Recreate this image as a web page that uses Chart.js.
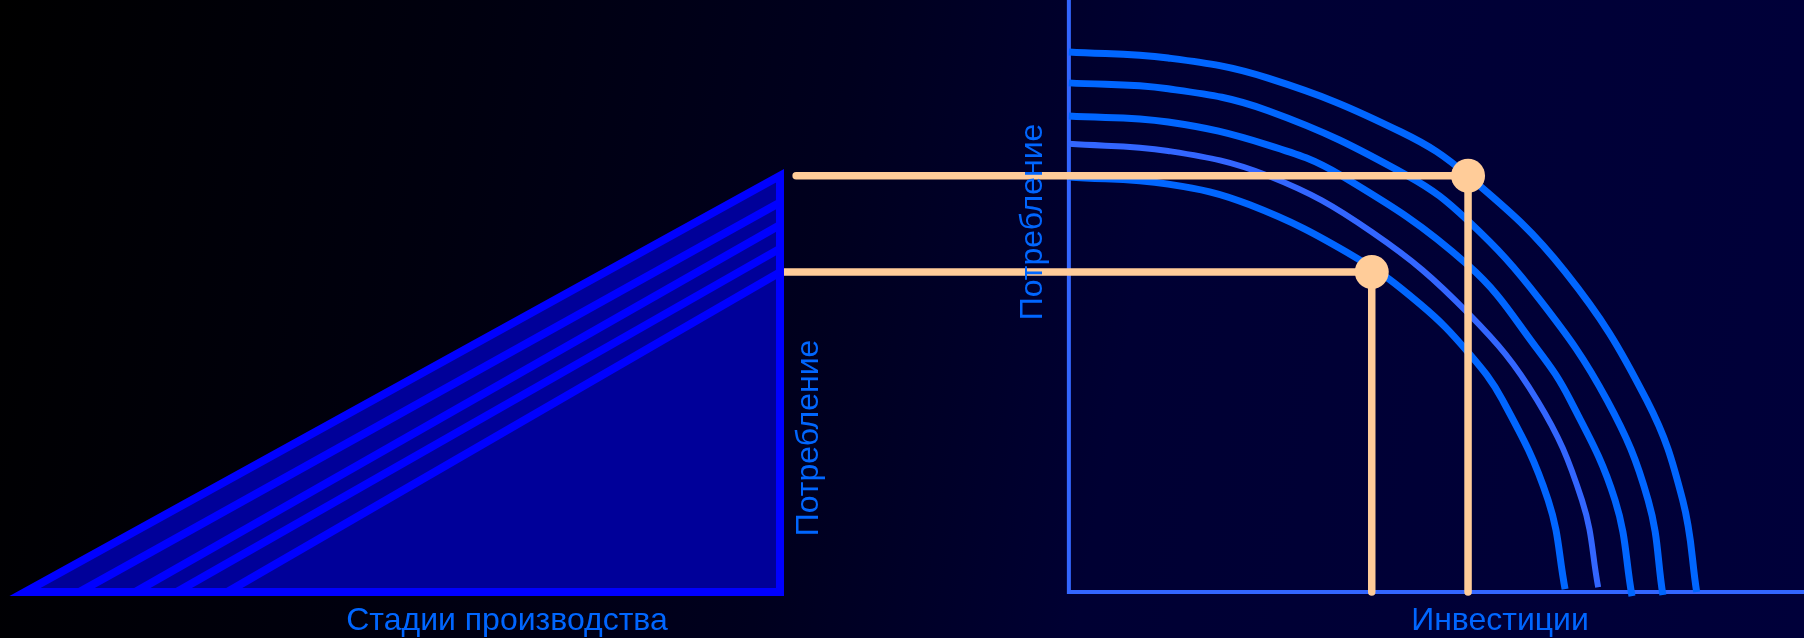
<!DOCTYPE html>
<html lang="ru">
<head>
<meta charset="utf-8">
<title>Стадии производства и инвестиции</title>
<script src="https://cdn.jsdelivr.net/npm/chart.js@4.4.1/dist/chart.umd.min.js"></script>
<style>
  html, body { margin: 0; padding: 0; overflow: hidden; }
  body {
    width: 1804px; height: 638px;
    background: linear-gradient(100deg, #000000 0%, #00000f 25%, #00001e 45%, #000033 62%, #00003a 100%);
  }
  canvas { display: block; }
</style>
</head>
<body>
<canvas id="chart" width="1804" height="638"></canvas>
<script>
// Left: Hayek triangle (stages of production vs consumption).
// Right: production possibility frontiers (investment vs consumption).
// Consumption is one shared y scale, so the guide lines run straight across both panels.

// --- data -----------------------------------------------------------------
var triangleTop = 70.3;                       // consumption delivered by the last stage
var hatchStart = [7.2, 14.6, 20.1, 26.8];     // stage where each inner line leaves the base
var hatchEnd = [65.8, 62.0, 58.0, 54.0];      // consumption where it meets the last stage

// frontiers, outermost first: [investment, consumption]
var ppf1 = [[0, 91.2], [13.5, 90.2], [27.1, 86.8], [45.2, 77.7], [54.3, 70.3],
            [67.5, 54.1], [78.6, 32.4], [83.5, 15.5], [85.4, 0]];
var ppf2 = [[0, 86.0], [13.5, 85.0], [27.1, 81.3], [46.1, 70.3], [54.3, 62.7],
            [64.1, 49.3], [73.2, 32.4], [78.8, 15.5], [80.8, -0.5]];
var ppf3 = [[0, 80.4], [13.5, 79.4], [27.1, 75.5], [37.1, 70.3], [54.3, 55.2],
            [63.8, 40.9], [68.2, 32.4], [74.3, 15.5], [76.6, -0.7]];
var ppf4 = [[0, 75.7], [13.5, 74.5], [27.1, 70.3], [41.2, 60.8], [54.3, 47.1],
            [63.7, 32.4], [69.8, 15.5], [72.0, 0.8]];
var ppf5 = [[0, 70.1], [13.5, 68.9], [24.6, 65.4], [38.9, 56.6], [47.8, 48.6],
            [54.3, 40.5], [59.0, 32.4], [65.2, 15.5], [67.5, 0.5]];

// chosen points on the frontiers: [investment, consumption]
var pointHigh = [54.3, 70.3];
var pointLow = [41.2, 54.05];
// where the horizontal guides start, on the investment scale (left of the y axis)
var guideStart = [-37.1, -39.3];

// --- styles ---------------------------------------------------------------
var BLUE = '#0000ff', FILL = '#000099', PPF = '#0066ff', PPF_ALT = '#3366ff';
var AXIS = '#3366ff', PEACH = '#ffcc99', TEXT = '#0066ff';
var FONT = '32px "Liberation Sans", Arial, sans-serif';

function pts(list) { return list.map(function (p) { return { x: p[0], y: p[1] }; }); }

function seg(data, color, width, axis, extra) {
  var ds = { data: data, borderColor: color, borderWidth: width, pointRadius: 0, tension: 0,
             fill: false, clip: false, xAxisID: axis || 'x', yAxisID: 'y' };
  for (var k in extra) ds[k] = extra[k];
  return ds;
}

// Chart.js paints dataset 0 last, so the list runs from top layer to bottom layer.
var datasets = [];

// inner lines of the triangle (above its fill)
hatchStart.forEach(function (s, i) {
  datasets.push(seg(pts([[s, 0], [100, hatchEnd[i]]]), BLUE, 8, 'xs'));
});
// triangle outline + fill (starts mid-base so every corner gets a miter join)
datasets.push(seg(pts([[50, 0], [100, 0], [100, triangleTop], [0, 0], [50, 0]]), BLUE, 8, 'xs',
  { fill: 'shape', backgroundColor: FILL, borderJoinStyle: 'miter' }));

// chosen points
datasets.push({ data: pts([pointHigh, pointLow]), showLine: false, pointRadius: 17,
                pointBackgroundColor: PEACH, pointBorderWidth: 0, clip: false,
                xAxisID: 'x', yAxisID: 'y' });

// guides: from the triangle across to the point, then down to the investment axis
[pointHigh, pointLow].forEach(function (p, i) {
  datasets.push(seg(pts([[guideStart[i], p[1]], p, [p[0], 0]]), PEACH, 7.5, 'x',
    { borderCapStyle: 'round', borderJoinStyle: 'round' }));
});

// frontiers
[ppf1, ppf2, ppf3, ppf4, ppf5].forEach(function (c, i) {
  datasets.push(seg(pts(c), i === 3 ? PPF_ALT : PPF, i === 3 ? 6 : 7, 'x', { tension: 0.4 }));
});

// right-panel axes drawn through the scales
var axesPlugin = {
  id: 'ppfAxes',
  beforeDatasetsDraw: function (chart) {
    var x = chart.scales.x, y = chart.scales.y, ctx = chart.ctx;
    var x0 = x.getPixelForValue(0), y0 = y.getPixelForValue(0);
    ctx.save();
    ctx.strokeStyle = AXIS;
    ctx.lineWidth = 4;
    ctx.beginPath();
    ctx.moveTo(x0, y.getPixelForValue(y.max));
    ctx.lineTo(x0, y0);
    ctx.lineTo(x.getPixelForValue(x.max), y0);
    ctx.stroke();
    ctx.restore();
  }
};

var labels = [
  { text: 'Стадии производства', x: 507, y: 630, rot: 0 },
  { text: 'Инвестиции', x: 1500, y: 630, rot: 0 },
  { text: 'Потребление', x: 818, y: 438, rot: -Math.PI / 2 },
  { text: 'Потребление', x: 1042, y: 222, rot: -Math.PI / 2 }
];

var labelPlugin = {
  id: 'labels',
  afterDraw: function (chart) {
    var ctx = chart.ctx;
    ctx.save();
    ctx.font = FONT;
    ctx.fillStyle = TEXT;
    ctx.textAlign = 'center';
    ctx.textBaseline = 'alphabetic';
    labels.forEach(function (l) {
      ctx.save();
      ctx.translate(l.x, l.y);
      ctx.rotate(l.rot);
      ctx.fillText(l.text, 0, 0);
      ctx.restore();
    });
    ctx.restore();
  }
};

new Chart(document.getElementById('chart'), {
  type: 'line',
  data: { datasets: datasets },
  options: {
    responsive: false,
    animation: false,
    events: [],
    layout: { autoPadding: false, padding: { left: 0, right: 0, top: 0, bottom: 46 } },
    plugins: { legend: { display: false }, tooltip: { enabled: false } },
    scales: {
      // investment: 0 sits on the right panel's y axis
      x: { type: 'linear', min: -145.4, max: 100, display: false },
      // stages of production: 0 = earliest stage (triangle apex), 100 = consumption goods
      xs: { type: 'linear', axis: 'x', min: -3.31, max: 235.63, display: false },
      y: { type: 'linear', min: 0, max: 100, display: false }
    }
  },
  plugins: [axesPlugin, labelPlugin]
});
</script>
</body>
</html>
